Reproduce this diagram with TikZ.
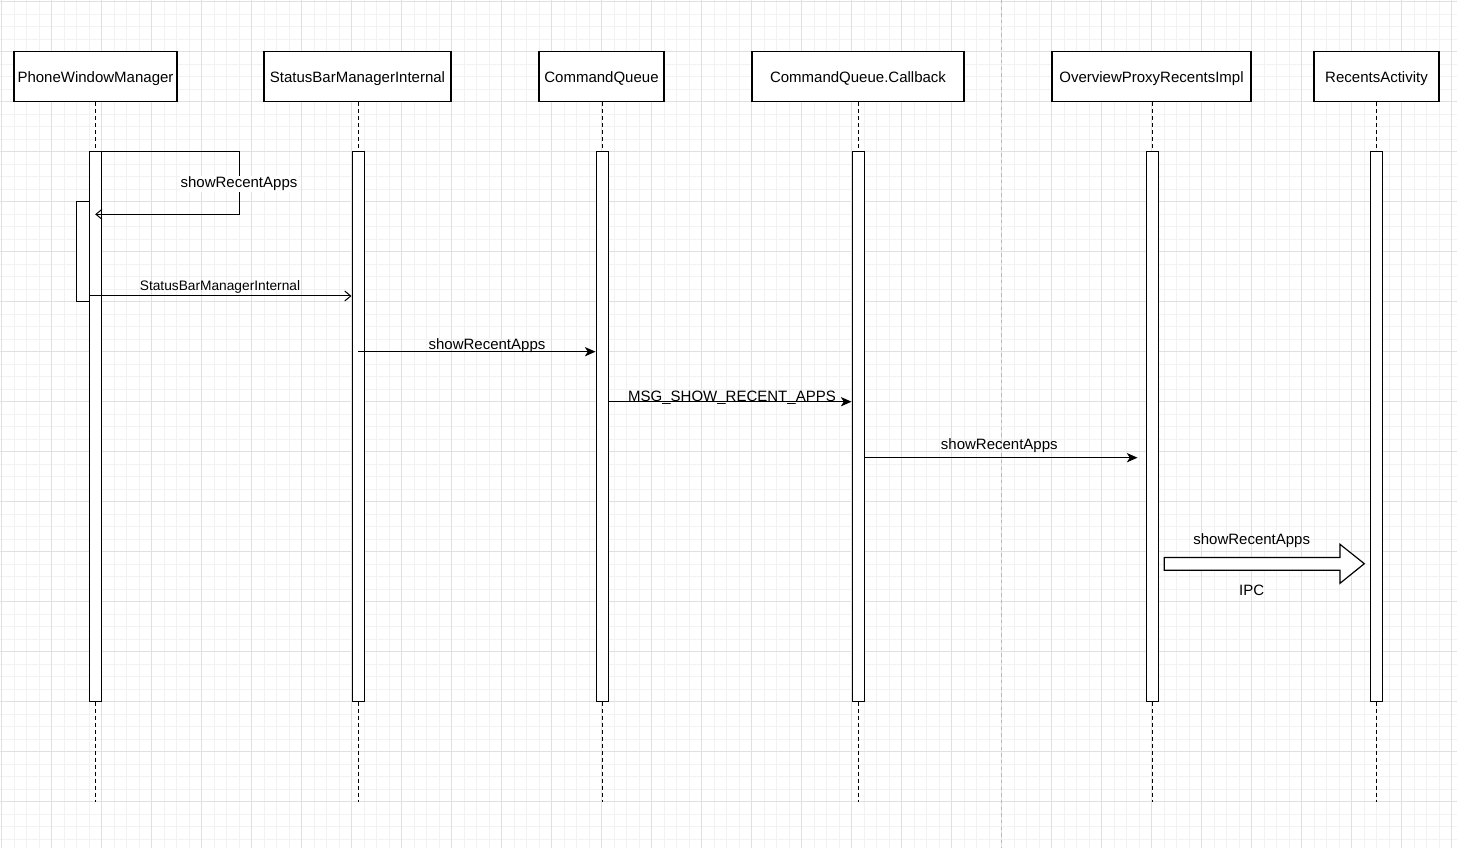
\documentclass[tikz,border=0pt]{standalone}
\usepackage{fontspec}
\setmainfont{Liberation Sans}
\usetikzlibrary{arrows.meta,calc}
\begin{document}
\begin{tikzpicture}[x=0.75pt,y=-0.75pt,
 every node/.style={font=\fontsize{11.25}{13}\selectfont},
 box/.style={draw, line width=0.9pt, minimum height=37.5pt, inner sep=0pt, fill=white, text height=10pt, text depth=1.2pt},
 bar/.style={draw, line width=0.75pt, fill=white, minimum width=9pt, minimum height=412.5pt, inner sep=0pt},
 life/.style={line width=0.75pt, dash pattern=on 3pt off 2.25pt},
 openmsg/.style={line width=0.75pt, -{Straight Barb[length=4.5pt,width=7.5pt]}},
 msg/.style={line width=0.75pt, -{Stealth[length=8pt,width=7pt,inset=2.2pt]}},
 lbl/.style={inner sep=0.5pt},
 minorgrid/.style={black!5, line width=0.75pt},
 majorgrid/.style={black!12, line width=0.75pt},
]
\useasboundingbox (0,0) rectangle (1457,848);
\fill[white] (0,0) rectangle (1457,848);
% grid
\foreach \i in {0,...,116} {\draw[minorgrid] ({1.7+12.5*\i},0) -- ({1.7+12.5*\i},848);}
\foreach \i in {0,...,67} {\draw[minorgrid] (0,{1.7+12.5*\i}) -- (1457,{1.7+12.5*\i});}
\foreach \i in {0,...,29} {\draw[majorgrid] ({1.7+50*\i},0) -- ({1.7+50*\i},848);}
\foreach \i in {0,...,16} {\draw[majorgrid] (0,{1.7+50*\i}) -- (1457,{1.7+50*\i});}
\draw[black!28, line width=0.75pt, dash pattern=on 2.5pt off 2.5pt] (1001.7,0) -- (1001.7,848);

% participant boxes
\node[box, minimum width=122.25pt] (p1) at (95.5,76.7) {PhoneWindowManager};
\node[box, minimum width=140.25pt] (p2) at (357.5,76.7) {StatusBarManagerInternal};
\node[box, minimum width=93.75pt] (p3) at (601.5,76.7) {CommandQueue};
\node[box, minimum width=159pt] (p4) at (858,76.7) {CommandQueue.Callback};
\node[box, minimum width=149.25pt] (p5) at (1151.5,76.7) {OverviewProxyRecentsImpl};
\node[box, minimum width=93.75pt] (p6) at (1376.5,76.7) {RecentsActivity};

\coordinate (bottom) at (0,801.7);
% lifelines and activation bars
\foreach \n/\x in {1/95.2,2/358,3/602,4/858,5/1152,6/1376.4} {
  \coordinate (c\n) at (\x,426.7);
  \draw[life] (c\n |- p\n.south) -- (c\n |- 0,151.7);
  \draw[life] (c\n |- 0,701.7) -- (c\n |- bottom);
  \node[bar] (b\n) at (c\n) {};
}

% self call
\coordinate (sc) at (239,214.3);
\draw[openmsg] (b1.north east) -| (sc) -- (b1.center |- sc);
\node[lbl, fill=white] (l1) at (239,184) {showRecentApps};
\node[bar, minimum width=9.45pt, minimum height=75pt] (a1) at (83,251.7) {};

% StatusBarManagerInternal
\coordinate (y2) at (0,296);
\draw[openmsg] (a1.east |- y2) -- (b2.west |- y2);
\node[lbl, font=\fontsize{10.3}{12}\selectfont] (l2) at (220,287) {StatusBarManagerInternal};

% showRecentApps -> CommandQueue
\coordinate (y3) at (0,351.7);
\draw[msg] (b2.center |- y3) -- (b3.west |- y3);
\node[lbl] (l3) at (487,346) {showRecentApps};

% MSG_SHOW_RECENT_APPS
\coordinate (y4) at (0,401.7);
\draw[msg] (b3.east |- y4) -- (b4.west |- y4);
\node[lbl, anchor=base] (l4) at (732,401.5) {MSG\_SHOW\_RECENT\_APPS};

% showRecentApps -> OverviewProxyRecentsImpl
\coordinate (y5) at (0,457.7);
\draw[msg, shorten >=6pt] (b4.east |- y5) -- (b5.west |- y5);
\node[lbl] (l5) at (999.3,446) {showRecentApps};

% IPC block arrow
\coordinate (ia) at (1164.3,563.7);
\draw[line width=0.9pt, fill=white] (ia) ++(0,-6.2) -- ++(175.7,0) -- ++(0,-13.2)
  -- (1364.3,563.7) -- (1340,583.3) -- ++(0,-13) -- ++(-175.7,0) -- cycle;
\node[lbl] (l6) at (1251.7,541) {showRecentApps};
\node[lbl] (l7) at (1251.7,590.5) {IPC};
\end{tikzpicture}
\end{document}
